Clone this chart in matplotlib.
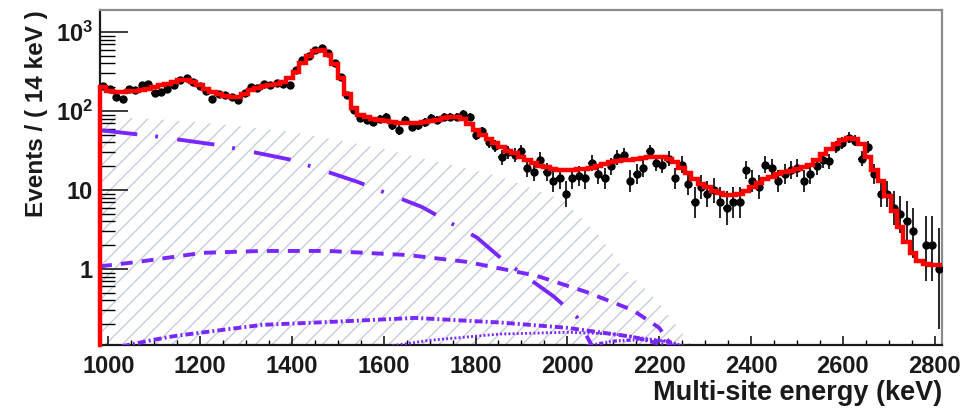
import numpy as np
import matplotlib
matplotlib.use("Agg")
import matplotlib.pyplot as plt
from matplotlib.ticker import FixedLocator, FixedFormatter, MultipleLocator, LogLocator, NullFormatter

# ---------------- data ----------------
bin_lo = 982.0
bin_width = 14.0

counts = [
    205, 190, 150, 140, 192, 185, 212, 222, 168, 175,
    190, 215, 248, 258, 235, 205, 178, 142, 162, 158,
    150, 138, 170, 200, 195, 222, 215, 228, 222, 212,
    330, 440, 500, 600, 625, 540, 400, 270, 160, 103,
    82, 77, 73, 80, 85, 66, 57, 77, 63, 66,
    72, 81, 77, 84, 85, 85, 92, 85, 50, 55,
    40, 36, 26, 30, 28, 31, 19, 17, 24, 17,
    13, 14, 9, 14, 15, 14, 22, 16, 14, 20,
    26, 28, 13, 16, 19, 31, 22, 21, 25, 14,
    21, 12, 7, 11, 9, 10, 7, 6, 7, 7,
    18, 13, 11, 21, 19, 13, 16, 18, 19, 13,
    16, 20, 24, 23, 35, 39, 46, 42, 25, 35,
    16, 9, 9, 6, 5, 4, 3, 0, 2, 2, 1,
]

fit = [
    200, 180, 174, 175, 177, 180, 185, 191, 200, 211,
    222, 234, 244, 247, 236, 214, 192, 175, 163, 155,
    150, 152, 165, 182, 198, 208, 215, 222, 235, 265,
    315, 400, 495, 575, 590, 515, 390, 260, 165, 110,
    90, 84, 80, 77, 75, 73, 71, 70, 70, 71,
    73, 75, 78, 81, 84, 85, 80, 68, 58, 50,
    44, 39, 35, 31.5, 29, 26.5, 24, 21.8, 20.3, 19.3,
    18.5, 18, 17.9, 18, 18.2, 18.6, 19.2, 20.2, 21.3, 22.5,
    23.3, 23.8, 24.2, 24.8, 25.5, 26.3, 26.5, 26, 25, 22.5,
    19, 16.3, 13.8, 12, 10.8, 9.8, 9.1, 8.7, 8.6, 8.9,
    9.6, 10.8, 12.4, 13.8, 14.8, 15.8, 16.7, 17.5, 18.3, 19.5,
    21, 24, 28.5, 33, 38, 43, 45.5, 44, 38, 26,
    18, 13, 8.5, 5.4, 3.4, 2.2, 1.6, 1.25, 1.15, 1.12, 1.12,
]

# hatched component
bkg_x = [982, 1000, 1100, 1200, 1300, 1400, 1480, 1600, 1700, 1850, 1990, 2070, 2120, 2195, 2270]
bkg_y = [85, 84, 79, 72, 63, 54, 45, 33, 24, 15, 7.5, 2.6, 1.06, 0.4, 0.11]

# purple components
compA_x = [982, 1100, 1240, 1400, 1544, 1683, 1803, 1860, 1910, 1970, 2020, 2060]
compA_y = [57, 48, 37, 24, 12.6, 6.1, 2.5, 1.3, 0.8, 0.45, 0.25, 0.09]

compB_x = [982, 1065, 1205, 1335, 1480, 1653, 1781, 1933, 2042, 2143, 2200, 2230]
compB_y = [1.08, 1.23, 1.6, 1.69, 1.69, 1.5, 1.23, 0.82, 0.51, 0.30, 0.18, 0.10]

compC_x = [1030, 1096, 1146, 1335, 1479, 1668, 1853, 1999, 2143, 2235]
compC_y = [0.105, 0.126, 0.142, 0.196, 0.213, 0.24, 0.21, 0.18, 0.138, 0.10]

compD_x = [1610, 1700, 1853, 1999, 2100, 2200, 2255]
compD_y = [0.105, 0.125, 0.15, 0.158, 0.15, 0.125, 0.105]

compE_x = [2040, 2100, 2160, 2220, 2250]
compE_y = [0.105, 0.122, 0.128, 0.122, 0.105]

x_ticks = [1000, 1200, 1400, 1600, 1800, 2000, 2200, 2400, 2600, 2800]
y_ticks = [1, 10, 100, 1000]
y_tick_labels = ["1", "10", r"$\mathbf{10^{2}}$", r"$\mathbf{10^{3}}$"]

x_label = "Multi-site energy (keV)"
y_label = "Events / ( 14 keV )"

# ---------------- style ----------------
plt.rcParams["font.family"] = ["Liberation Sans", "DejaVu Sans"]
plt.rcParams["font.weight"] = "bold"
plt.rcParams["mathtext.fontset"] = "custom"
plt.rcParams["mathtext.rm"] = "Liberation Sans:bold"
plt.rcParams["mathtext.bf"] = "Liberation Sans:bold"
plt.rcParams["lines.scale_dashes"] = False
plt.rcParams["hatch.linewidth"] = 1.0

purple = "#7828FF"
hatch_col = "#C6CEDB"
ink = "#1a1a1a"

fig = plt.figure(figsize=(9.7, 4.11), dpi=100)
ax = fig.add_axes([0.1031, 0.1606, 0.868, 0.8151])

xmin, xmax = 982, 2816
ymin, ymax = 0.109, 1900
ax.set_yscale("log")
ax.set_xlim(xmin, xmax)
ax.set_ylim(ymin, ymax)

n_bins = len(fit)
edges = bin_lo + bin_width * np.arange(n_bins + 1)
centers = edges[:-1] + bin_width / 2.0

# hatched component
ax.fill_between(bkg_x, 1e-3, bkg_y, facecolor="none", edgecolor=hatch_col,
                hatch="//", linewidth=0, zorder=1)

# purple components
lw_p = 2.8
ax.plot(compA_x, compA_y, color=purple, lw=lw_p, dashes=(27, 13, 2, 14), zorder=3)
ax.plot([compA_x[0], compA_x[0]], [ymin, compA_y[0]], color=purple, lw=lw_p,
        dashes=(27, 13, 2, 14), zorder=3, clip_on=False)
ax.plot(compB_x, compB_y, color=purple, lw=lw_p, dashes=(8.6, 6.5), zorder=3)
ax.plot([compB_x[0], compB_x[0]], [ymin, compB_y[0]], color=purple, lw=lw_p,
        zorder=3, clip_on=False)
ax.plot(compC_x, compC_y, color=purple, lw=lw_p, dashes=(5.8, 2.2, 1.4, 2.2), zorder=3)
ax.plot(compD_x, compD_y, color=purple, lw=2.0, dashes=(1.4, 1.6), zorder=3)
ax.plot(compE_x, compE_y, color=purple, lw=2.4, dashes=(3, 1.5, 1.2, 1.5, 1.2, 1.5), zorder=3)

# data points with Poisson (Garwood-like) error bars
N = np.asarray(counts, dtype=float)
m = N > 0
Nm = N[m]
lo = Nm * (1 - 1 / (9 * Nm) - 1 / (3 * np.sqrt(Nm))) ** 3
hi = (Nm + 1) * (1 - 1 / (9 * (Nm + 1)) + 1 / (3 * np.sqrt(Nm + 1))) ** 3
ax.errorbar(centers[m], Nm, yerr=[Nm - lo, hi - Nm], xerr=bin_width / 2.0,
            fmt="o", color="black", ms=5.0, elinewidth=1.2, capsize=0, zorder=4)

# fit curve (red, stepped)
ax.stairs(fit, edges, baseline=None, color="#FF0000", lw=3.2, zorder=5)
ax.plot([edges[0], edges[0]], [ymin, fit[0]], color="#FF0000", lw=3.2,
        zorder=5, clip_on=False)

# ---------------- axes cosmetics ----------------
for s in ["left", "bottom"]:
    ax.spines[s].set_color(ink)
    ax.spines[s].set_linewidth(1.6)
for s in ["top", "right"]:
    ax.spines[s].set_color("#8c8c8c")
    ax.spines[s].set_linewidth(1.6)

ax.xaxis.set_major_locator(FixedLocator(x_ticks))
ax.xaxis.set_minor_locator(MultipleLocator(50))
ax.yaxis.set_major_locator(FixedLocator(y_ticks))
ax.yaxis.set_major_formatter(FixedFormatter(y_tick_labels))
ax.yaxis.set_minor_locator(LogLocator(base=10, subs=np.arange(2, 10), numticks=20))
ax.yaxis.set_minor_formatter(NullFormatter())

ax.tick_params(axis="x", which="major", direction="in", length=6.5, width=1.2,
               labelsize=17, pad=7, top=False, colors=ink)
ax.tick_params(axis="x", which="minor", direction="in", length=3.3, width=1.0, top=False)
ax.tick_params(axis="y", which="major", direction="in", length=20, width=1.2,
               labelsize=17, pad=5, right=False, colors=ink)
ax.tick_params(axis="y", which="minor", direction="in", length=11, width=1.0, right=False)
for t in ax.get_xticklabels() + ax.get_yticklabels():
    t.set_fontweight("bold")
    t.set_color(ink)

ax.set_xlabel(x_label, fontsize=19.5, fontweight="bold", loc="right", color=ink)
ax.xaxis.set_label_coords(1.0, -0.104)
ax.xaxis.label.set_va("top")
ax.set_ylabel(y_label, fontsize=17.5, fontweight="bold", loc="top", color=ink)
ax.yaxis.set_label_coords(-0.062, 1.0)

fig.savefig("out.png", dpi=100)
